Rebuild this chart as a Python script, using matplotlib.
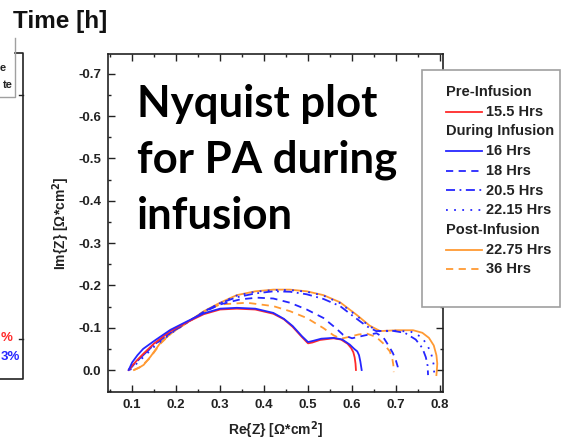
import matplotlib.pyplot as plt
from matplotlib.lines import Line2D
from matplotlib.patches import Rectangle
from matplotlib.ticker import MultipleLocator, FormatStrFormatter

plt.rcParams['font.family'] = ['Liberation Sans', 'DejaVu Sans']
plt.rcParams['axes.unicode_minus'] = False

W, H = 561, 440

# Nyquist data, Re{Z} and Im{Z} in Ohm*cm^2
x_155 = [0.092, 0.100, 0.110, 0.125, 0.149, 0.187, 0.225, 0.263, 0.300, 0.338, 0.380, 0.421, 0.445,
         0.465, 0.486, 0.500, 0.510, 0.527, 0.558, 0.575, 0.590, 0.598, 0.603, 0.606, 0.608, 0.609]
y_155 = [0.0, -0.010, -0.022, -0.038, -0.062, -0.092, -0.113, -0.132, -0.143, -0.145, -0.143, -0.133, -0.120,
         -0.102, -0.078, -0.063, -0.065, -0.071, -0.075, -0.072, -0.062, -0.052, -0.042, -0.030, -0.015, 0.0]

x_16 = [0.092, 0.100, 0.112, 0.125, 0.149, 0.187, 0.225, 0.263, 0.300, 0.338, 0.380, 0.421, 0.445,
        0.465, 0.486, 0.500, 0.512, 0.530, 0.558, 0.578, 0.595, 0.605, 0.612, 0.616, 0.619, 0.622]
y_16 = [0.0, -0.018, -0.035, -0.050, -0.068, -0.095, -0.115, -0.134, -0.145, -0.147, -0.145, -0.135, -0.121,
        -0.104, -0.080, -0.066, -0.069, -0.074, -0.076, -0.072, -0.060, -0.050, -0.044, -0.035, -0.020, 0.0]

x_18 = [0.092, 0.110, 0.130, 0.150, 0.190, 0.225, 0.263, 0.300, 0.346, 0.384, 0.421, 0.459, 0.497,
        0.535, 0.562, 0.580, 0.600, 0.630, 0.656, 0.672, 0.683, 0.693, 0.700, 0.704, 0.705]
y_18 = [0.0, -0.020, -0.040, -0.060, -0.090, -0.113, -0.137, -0.155, -0.167, -0.171, -0.169, -0.159, -0.143,
        -0.123, -0.100, -0.083, -0.075, -0.082, -0.087, -0.076, -0.058, -0.040, -0.022, -0.008, 0.005]

x_205 = [0.092, 0.110, 0.130, 0.150, 0.190, 0.225, 0.263, 0.300, 0.338, 0.380, 0.421, 0.459, 0.497,
         0.535, 0.573, 0.603, 0.634, 0.655, 0.690, 0.720, 0.745, 0.760, 0.768, 0.772, 0.773]
y_205 = [0.0, -0.020, -0.040, -0.060, -0.090, -0.112, -0.138, -0.158, -0.172, -0.181, -0.186, -0.185, -0.179,
         -0.168, -0.151, -0.127, -0.103, -0.092, -0.093, -0.088, -0.072, -0.052, -0.030, -0.010, 0.012]

x_2215 = [0.095, 0.110, 0.130, 0.150, 0.190, 0.225, 0.263, 0.300, 0.338, 0.380, 0.421, 0.459, 0.497,
          0.535, 0.573, 0.611, 0.640, 0.664, 0.702, 0.735, 0.758, 0.772, 0.781, 0.786, 0.787]
y_2215 = [0.0, -0.015, -0.035, -0.055, -0.088, -0.112, -0.138, -0.158, -0.176, -0.185, -0.189, -0.189, -0.185,
          -0.176, -0.158, -0.128, -0.103, -0.091, -0.093, -0.090, -0.078, -0.058, -0.035, -0.012, 0.008]

x_2275 = [0.104, 0.115, 0.126, 0.142, 0.164, 0.190, 0.225, 0.263, 0.300, 0.338, 0.380, 0.421, 0.459, 0.497,
          0.535, 0.573, 0.611, 0.640, 0.664, 0.702, 0.739, 0.760, 0.775, 0.786, 0.792, 0.794, 0.793, 0.792]
y_2275 = [0.0, -0.005, -0.012, -0.032, -0.064, -0.088, -0.112, -0.139, -0.159, -0.177, -0.186, -0.190, -0.190, -0.186,
          -0.177, -0.160, -0.130, -0.105, -0.092, -0.094, -0.094, -0.088, -0.076, -0.058, -0.035, -0.015, 0.000, 0.012]

x_36 = [0.104, 0.120, 0.140, 0.164, 0.190, 0.225, 0.263, 0.300, 0.361, 0.421, 0.459, 0.497, 0.535,
        0.558, 0.575, 0.596, 0.615, 0.634, 0.655, 0.671, 0.686, 0.692, 0.694, 0.695]
y_36 = [0.0, -0.008, -0.028, -0.062, -0.088, -0.112, -0.138, -0.155, -0.159, -0.151, -0.139, -0.123, -0.099,
        -0.082, -0.074, -0.079, -0.084, -0.086, -0.078, -0.063, -0.044, -0.025, -0.012, 0.005]

red = '#ff2a2a'
blue = '#2626ff'
orange = '#ff9a33'
solid = '-'
dashed = (0, (4, 3))
dashdot = (0, (5, 2.5, 1, 2.5))
dotted = (0, (1, 3.5))

# groups of the legend: heading, then (label, x, y, colour, style)
groups = [
    ('Pre-Infusion', [('15.5 Hrs', x_155, y_155, red, solid)]),
    ('During Infusion', [('16 Hrs', x_16, y_16, blue, solid),
                         ('18 Hrs', x_18, y_18, blue, dashed),
                         ('20.5 Hrs', x_205, y_205, blue, dashdot),
                         ('22.15 Hrs', x_2215, y_2215, blue, dotted)]),
    ('Post-Infusion', [('22.75 Hrs', x_2275, y_2275, orange, solid),
                       ('36 Hrs', x_36, y_36, orange, dashed)]),
]


def fx(px):
    return px / W


def fy(py):
    return 1 - py / H


fig = plt.figure(figsize=(W / 100, H / 100), dpi=100)
ax = fig.add_axes([fx(108), fy(392), fx(443) - fx(108), fy(54) - fy(392)])

draw_order = [groups[2][1][1], groups[2][1][0], groups[1][1][3], groups[1][1][2],
              groups[1][1][1], groups[0][1][0], groups[1][1][0]]
for label, xs, ys, c, ls in draw_order:
    ax.plot(xs, ys, color=c, linestyle=ls, lw=1.3)

ax.set_xlim(0.045, 0.807)
ax.set_ylim(0.052, -0.747)
ax.xaxis.set_major_locator(MultipleLocator(0.1))
ax.xaxis.set_minor_locator(MultipleLocator(0.05))
ax.yaxis.set_major_locator(MultipleLocator(0.1))
ax.yaxis.set_minor_locator(MultipleLocator(0.05))
ax.xaxis.set_major_formatter(FormatStrFormatter('%.1f'))
ax.yaxis.set_major_formatter(FormatStrFormatter('%.1f'))
ax.tick_params(which='both', direction='in', top=True, right=True, width=1.0, color='#222222')
ax.tick_params(which='major', length=5, labelsize=9.5, labelcolor='#222222', pad=5)
ax.tick_params(which='minor', length=2.5)
for lab in ax.get_xticklabels() + ax.get_yticklabels():
    lab.set_fontweight('bold')
for sp in ax.spines.values():
    sp.set_linewidth(1.2)
    sp.set_color('#222222')
ax.set_xlabel('Re{Z} [\u03a9*cm$^\\mathbf{2}$]', fontsize=10, fontweight='bold', color='#222222', labelpad=6)
ax.set_ylabel('Im{Z} [\u03a9*cm$^\\mathbf{2}$]', fontsize=10, fontweight='bold', color='#222222', labelpad=4)

fig.text(fx(137), fy(84), 'Nyquist plot\nfor PA during\ninfusion', family='Lato', fontweight='bold',
         fontsize=31.5, va='top', ha='left', linespacing=1.47)

# legend box
fig.add_artist(Rectangle((fx(422), fy(307)), fx(560) - fx(422), fy(70) - fy(307), transform=fig.transFigure,
                         facecolor='white', edgecolor='#a0a0a0', lw=1.2, zorder=5))
row = 0
for heading, items in groups:
    yy = fy(92 + row * 19.7)
    fig.text(fx(446), yy, heading, fontsize=10.5, fontweight='bold', color='#222222', va='center', zorder=6)
    row += 1
    for label, xs, ys, c, ls in items:
        yy = fy(92 + row * 19.7)
        fig.add_artist(Line2D([fx(446), fx(482)], [yy, yy], transform=fig.transFigure, color=c,
                              linestyle=ls, lw=1.3, zorder=6))
        fig.text(fx(486), yy, label, fontsize=10.5, fontweight='bold', color='#222222', va='center', zorder=6)
        row += 1

# cropped part of the neighbouring chart on the left
fig.text(fx(13), fy(28), 'Time [h]', fontsize=17.5, fontweight='bold', color='#111111', va='baseline')
frame_x = [fx(0), fx(23), fx(23), fx(15)]
frame_y = [fy(379), fy(379), fy(53), fy(53)]
fig.add_artist(Line2D(frame_x, frame_y, transform=fig.transFigure, color='#222222', lw=1.2))
for ty in [95, 339]:
    fig.add_artist(Line2D([fx(19), fx(23)], [fy(ty), fy(ty)], transform=fig.transFigure, color='#222222', lw=1.0))
fig.add_artist(Line2D([fx(0), fx(15), fx(15)], [fy(97), fy(97), fy(38)], transform=fig.transFigure,
                      color='#a0a0a0', lw=1.0))
fig.text(fx(6), fy(68), 'e', fontsize=8, fontweight='bold', color='#222222', ha='right', va='center')
fig.text(fx(13), fy(85), 'te', fontsize=8, fontweight='bold', color='#222222', ha='right', va='center')
fig.text(fx(1), fy(338), '%', fontsize=9.5, fontweight='bold', color=red, ha='left', va='center')
fig.text(fx(1), fy(357), '3%', fontsize=9.5, fontweight='bold', color=blue, ha='left', va='center')

fig.savefig('out.png', dpi=100)
